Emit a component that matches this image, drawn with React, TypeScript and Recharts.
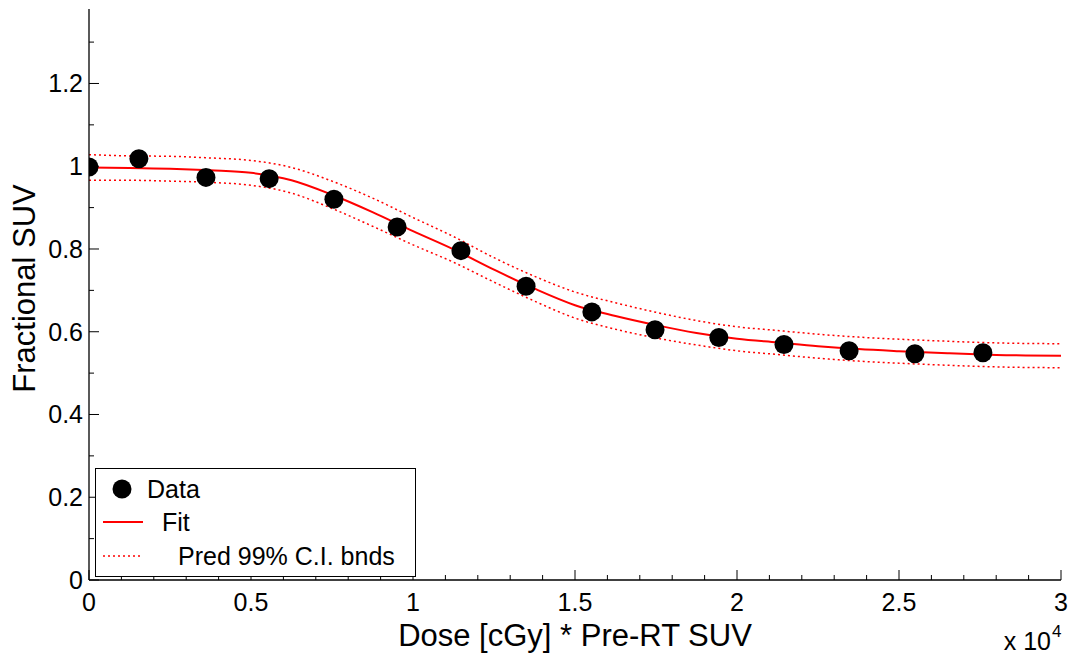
import {
  ComposedChart,
  Scatter,
  Line,
  XAxis,
  YAxis,
  Legend,
  Label,
} from 'recharts';

// measured points
const doseData = [0, 1540, 3610, 5560, 7560, 9510, 11480, 13490, 15520, 17470, 19440, 21450, 23460, 25490, 27590];
const suvData = [0.998, 1.018, 0.973, 0.970, 0.920, 0.853, 0.796, 0.710, 0.648, 0.605, 0.586, 0.569, 0.554, 0.547, 0.549];

// fitted curve + prediction bounds
const fitDose = [0, 1250, 2500, 3750, 5000, 6250, 7500, 8750, 10000, 11250, 12500, 13750, 15000, 16250, 17500, 18750, 20000, 21250, 22500, 23750, 25000, 26500, 28000, 30000];
const fitVals = [0.997, 0.996, 0.994, 0.990, 0.984, 0.966, 0.931, 0.889, 0.843, 0.799, 0.750, 0.704, 0.664, 0.638, 0.616, 0.597, 0.583, 0.574, 0.565, 0.558, 0.553, 0.548, 0.544, 0.542];
const upperVals = [1.028, 1.025, 1.024, 1.020, 1.014, 0.997, 0.964, 0.923, 0.876, 0.830, 0.779, 0.734, 0.696, 0.670, 0.647, 0.627, 0.612, 0.603, 0.594, 0.587, 0.582, 0.577, 0.573, 0.571];
const lowerVals = [0.966, 0.966, 0.964, 0.961, 0.954, 0.935, 0.898, 0.855, 0.810, 0.768, 0.720, 0.674, 0.633, 0.606, 0.585, 0.568, 0.554, 0.545, 0.536, 0.529, 0.524, 0.519, 0.515, 0.513];

const xMajor = [0, 5000, 10000, 15000, 20000, 25000, 30000];
const yMajor = [0, 0.2, 0.4, 0.6, 0.8, 1, 1.2];

const xTicks = Array.from({ length: 31 }, (_, i) => i * 1000);
const yTicks = Array.from({ length: 14 }, (_, i) => i / 10);

const FONT = '"Liberation Sans", Arial, sans-serif';

const scatterData = doseData.map((d, i) => ({ dose: d, suv: suvData[i] }));
const fitData = fitDose.map((d, i) => ({ dose: d, fit: fitVals[i], upper: upperVals[i], lower: lowerVals[i] }));

const XTick = (props: any) => {
  const { x, y, payload } = props;
  const v = payload.value;
  const major = xMajor.includes(v);
  return (
    <g>
      <line x1={x} x2={x} y1={y} y2={y - (major ? 10 : 5)} stroke="#000" strokeWidth={1} />
      {major && (
        <text x={x} y={y + 31} textAnchor="middle" fontSize={25} fontFamily={FONT} fill="#000">
          {String(v / 10000)}
        </text>
      )}
    </g>
  );
};

const YTick = (props: any) => {
  const { x, y, payload } = props;
  const v = Math.round(payload.value * 10) / 10;
  const major = yMajor.some((m) => Math.abs(m - v) < 1e-6);
  return (
    <g>
      <line x1={x} x2={x + (major ? 10 : 5)} y1={y} y2={y} stroke="#000" strokeWidth={1} />
      {major && (
        <text x={x - 6} y={y} dy="0.36em" textAnchor="end" fontSize={25} fontFamily={FONT} fill="#000">
          {String(v)}
        </text>
      )}
    </g>
  );
};

const DataDot = (props: any) => {
  const { cx, cy } = props;
  return <circle cx={cx} cy={cy} r={9.5} fill="#000" />;
};

const LegendBox = () => (
  <div style={{ width: 321, height: 109, boxSizing: 'border-box', border: '1px solid #000', background: '#fff' }}>
    <svg width={319} height={107} style={{ display: 'block' }}>
      <circle cx={26} cy={20} r={9.5} fill="#000" />
      <text x={51} y={29} fontSize={25} fontFamily={FONT} fill="#000">Data</text>
      <line x1={7} x2={47} y1={53} y2={53} stroke="#ff0000" strokeWidth={2} />
      <text x={66} y={62} fontSize={25} fontFamily={FONT} fill="#000">Fit</text>
      <line x1={7} x2={47} y1={87} y2={87} stroke="#ff0000" strokeWidth={1.5} strokeDasharray="2 3" />
      <text x={82} y={96} fontSize={25} fontFamily={FONT} fill="#000">Pred 99% C.I. bnds</text>
    </svg>
  </div>
);

export default function App() {
  return (
    <div style={{ position: 'absolute', left: 0, top: 0, background: '#fff' }}>
      <ComposedChart
        width={1073}
        height={657}
        margin={{ top: 9, right: 12, left: 0, bottom: 0 }}
        style={{ fontFamily: FONT }}
      >
        <XAxis
          type="number"
          dataKey="dose"
          domain={[0, 30000]}
          allowDataOverflow
          ticks={xTicks}
          interval={0}
          tick={<XTick />}
          tickLine={false}
          tickSize={0}
          tickMargin={0}
          height={77}
          axisLine={{ stroke: '#000', strokeWidth: 1.3 }}
        >
          <Label
            content={(p: any) => {
              const vb = p.viewBox;
              return (
                <g>
                  <text x={vb.x + vb.width / 2} y={vb.y + 66} textAnchor="middle" fontSize={31} fontFamily={FONT} fill="#000">
                    Dose [cGy] * Pre-RT SUV
                  </text>
                  <text x={vb.x + vb.width - 10} y={vb.y + 70} textAnchor="end" fontSize={25} fontFamily={FONT} fill="#000">
                    x 10
                  </text>
                  <text x={vb.x + vb.width - 9} y={vb.y + 57} textAnchor="start" fontSize={17} fontFamily={FONT} fill="#000">
                    4
                  </text>
                </g>
              );
            }}
          />
        </XAxis>
        <YAxis
          type="number"
          domain={[0, 1.38]}
          allowDataOverflow
          ticks={yTicks}
          interval={0}
          tick={<YTick />}
          tickLine={false}
          tickSize={0}
          tickMargin={0}
          width={89}
          axisLine={{ stroke: '#000', strokeWidth: 1.3 }}
        >
          <Label
            content={(p: any) => {
              const vb = p.viewBox;
              const cy = vb.y + vb.height / 2 - 6;
              return (
                <text
                  x={35}
                  y={cy}
                  transform={`rotate(-90 35 ${cy})`}
                  textAnchor="middle"
                  fontSize={31}
                  fontFamily={FONT}
                  fill="#000"
                >
                  Fractional SUV
                </text>
              );
            }}
          />
        </YAxis>
        <Scatter
          name="Data"
          data={scatterData}
          dataKey="suv"
          fill="#000"
          shape={<DataDot />}
          isAnimationActive={false}
        />
        <Line
          name="Fit"
          data={fitData}
          dataKey="fit"
          type="monotone"
          stroke="#ff0000"
          strokeWidth={2}
          dot={false}
          activeDot={false}
          isAnimationActive={false}
        />
        <Line
          name="Pred 99% C.I. bnds"
          data={fitData}
          dataKey="upper"
          type="monotone"
          stroke="#ff0000"
          strokeWidth={1.5}
          strokeDasharray="2 3"
          dot={false}
          activeDot={false}
          isAnimationActive={false}
        />
        <Line
          name="lower"
          data={fitData}
          dataKey="lower"
          type="monotone"
          stroke="#ff0000"
          strokeWidth={1.5}
          strokeDasharray="2 3"
          dot={false}
          activeDot={false}
          isAnimationActive={false}
        />
        <Legend
          layout="vertical"
          align="center"
          verticalAlign="middle"
          content={<LegendBox />}
          wrapperStyle={{ left: 95, top: 468, width: 321, height: 109 }}
        />
      </ComposedChart>
    </div>
  );
}
